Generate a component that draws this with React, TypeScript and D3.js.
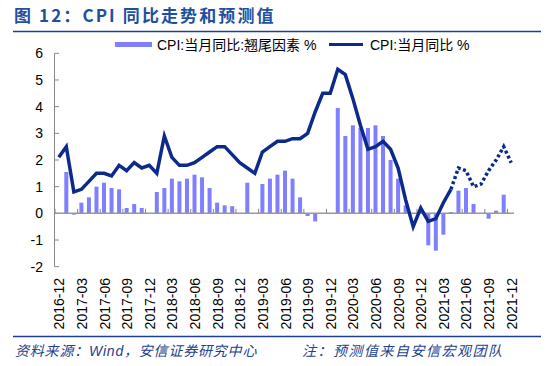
import React from "react";
import * as d3 from "d3";

const months: string[] = [];
for (let y = 2016; y <= 2021; y++) {
  for (let m = 1; m <= 12; m++) {
    if (y === 2016 && m < 12) continue;
    months.push(`${y}-${String(m).padStart(2, "0")}`);
  }
}

const tickLabels = [
  "2016-12", "2017-03", "2017-06", "2017-09", "2017-12", "2018-03", "2018-06",
  "2018-09", "2018-12", "2019-03", "2019-06", "2019-09", "2019-12", "2020-03",
  "2020-06", "2020-09", "2020-12", "2021-03", "2021-06", "2021-09", "2021-12",
];

// CPI 翘尾因素 (bars), 2016-12 .. 2021-12
const carryover = [
  0, 1.55, -0.05, 0.4, 0.6, 1.0, 1.15, 0.95, 0.9, 0.2, 0.35, 0.2, 0,
  0.8, 0.95, 1.3, 1.2, 1.3, 1.45, 1.35, 0.95, 0.4, 0.3, 0.27, 0,
  1.15, 0, 1.1, 1.3, 1.45, 1.6, 1.3, 0.6, -0.1, -0.3, 0, 0,
  3.95, 2.9, 3.3, 3.2, 3.2, 3.3, 2.9, 2.0, 1.3, 0.3, 0, 0,
  -1.2, -1.4, -0.8, 0.05, 0.85, 0.95, 0.35, 0, -0.2, 0.1, 0.7, 0,
];

// CPI 当月同比 actual, 2016-12 .. 2021-04
const cpiActual = [
  2.1, 2.5, 0.8, 0.9, 1.2, 1.5, 1.5, 1.4, 1.8, 1.6, 1.9, 1.7, 1.8,
  1.5, 2.9, 2.1, 1.8, 1.8, 1.9, 2.1, 2.3, 2.5, 2.5, 2.2, 1.9,
  1.7, 1.5, 2.3, 2.5, 2.7, 2.7, 2.8, 2.8, 3.0, 3.8, 4.5, 4.5,
  5.4, 5.2, 4.3, 3.3, 2.4, 2.5, 2.7, 2.4, 1.7, 0.5, -0.5, 0.2,
  -0.3, -0.2, 0.4, 0.9,
];

// forecast 2021-04 .. 2021-12
const cpiForecast = [0.9, 1.7, 1.6, 1.0, 1.1, 1.6, 2.0, 2.5, 1.9];

const yTicks = [-2, -1, 0, 1, 2, 3, 4, 5, 6];

const BAR = "#7f7fff";
const LINE = "#0c2a8c";
const FONT = "'Liberation Sans', Arial, 'Noto Sans CJK SC', sans-serif";
const CJK = "'Noto Sans CJK SC', 'Liberation Sans', sans-serif";

export default function App() {
  const W = 550, H = 366;
  const x = d3.scaleBand<string>().domain(months).range([55, 515]).padding(0);
  const bw = x.bandwidth();
  const cx = (m: string) => (x(m) as number) + bw / 2;
  const y = d3.scaleLinear().domain([-2, 6]).range([266.7, 53.3]);

  const lineGen = d3.line<number>().x((_, i) => cx(months[i])).y((d) => y(d));
  const fStart = cpiActual.length - 1;
  const fLine = d3
    .line<number>()
    .x((_, i) => cx(months[fStart + i]))
    .y((d) => y(d));

  const tickEvery = 3;
  const xTickPos: number[] = [];
  for (let i = 0; i <= months.length - 1; i += tickEvery) xTickPos.push(55 + i * bw);

  return (
    <svg width={W} height={H} style={{ position: "absolute", left: 0, top: 0 }}>
      <rect width={W} height={H} fill="#fff" />
      {/* title */}
      <text x={14} y={22} fontFamily={CJK} fontSize={17} fontWeight="bold" fill="#1f4f9f" letterSpacing={2.1}>
        图 12：CPI 同比走势和预测值
      </text>
      <line x1={13} x2={541} y1={31.5} y2={31.5} stroke="#1f3f8f" strokeWidth={1.5} />

      {/* legend */}
      <rect x={115} y={42} width={37} height={5} fill={BAR} />
      <text x={157} y={50} fontFamily={FONT} fontSize={14} fill="#000">CPI:当月同比:翘尾因素 %</text>
      <line x1={329} x2={363} y1={44.5} y2={44.5} stroke={LINE} strokeWidth={3} />
      <text x={370} y={50} fontFamily={FONT} fontSize={14} fill="#000">CPI:当月同比 %</text>

      {/* y axis */}
      <line x1={54.5} x2={54.5} y1={y(6)} y2={y(-2)} stroke="#888" strokeWidth={1} />
      {yTicks.map((t) => (
        <g key={t}>
          <line x1={54.5} x2={59} y1={y(t)} y2={y(t)} stroke="#888" strokeWidth={1} />
          <text x={43} y={y(t) + 5} textAnchor="end" fontFamily={FONT} fontSize={14} fill="#000">
            {t}
          </text>
        </g>
      ))}

      {/* bars */}
      {carryover.map((v, i) =>
        v === 0 ? null : (
          <rect
            key={i}
            x={cx(months[i]) - 2}
            width={4}
            y={Math.min(y(v), y(0))}
            height={Math.abs(y(v) - y(0))}
            fill={BAR}
          />
        )
      )}

      {/* zero line + ticks */}
      <line x1={55} x2={514} y1={y(0)} y2={y(0)} stroke="#999" strokeWidth={1.5} />
      {xTickPos.map((p, i) => (
        <line key={i} x1={p} x2={p} y1={y(0)} y2={y(0) - 4.5} stroke="#888" strokeWidth={1} />
      ))}

      {/* lines */}
      <path d={lineGen(cpiActual) || ""} fill="none" stroke={LINE} strokeWidth={3.5} strokeLinejoin="miter" />
      <path d={fLine(cpiForecast) || ""} fill="none" stroke={LINE} strokeWidth={3.5} strokeDasharray="3 2.5" />

      {/* x labels */}
      {tickLabels.map((m) => {
        const px = cx(m) + 5.5;
        return (
          <text
            key={m}
            transform={`translate(${px},278) rotate(-90)`}
            textAnchor="end"
            fontFamily={FONT}
            fontSize={14}
            fill="#000"
          >
            {m}
          </text>
        );
      })}

      {/* footer */}
      <line x1={13} x2={541} y1={336.5} y2={336.5} stroke="#1f3f8f" strokeWidth={1.5} />
      <text x={15} y={356} fontFamily={CJK} fontSize={14} fontStyle="italic" fill="#23408e" letterSpacing={0.8}>
        资料来源：<tspan fontFamily={FONT}>Wind</tspan>，安信证券研究中心
      </text>
      <text x={302} y={356} fontFamily={CJK} fontSize={14} fontStyle="italic" fill="#23408e" letterSpacing={1.5}>
        注：预测值来自安信宏观团队
      </text>
    </svg>
  );
}
